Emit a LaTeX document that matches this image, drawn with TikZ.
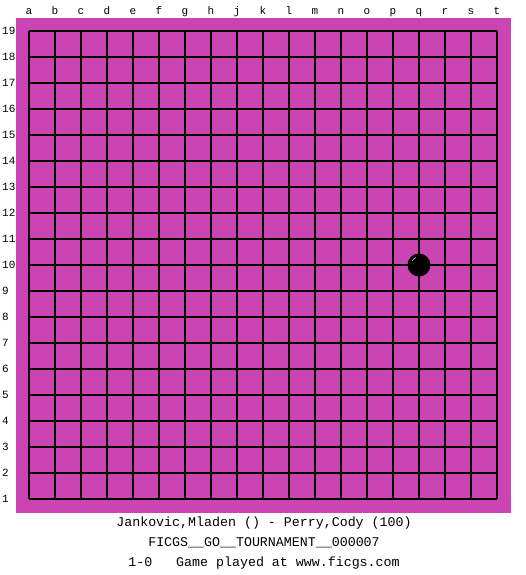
\documentclass[tikz,border=0pt]{standalone}
\usepackage{fontspec}
\setmonofont{Liberation Mono}
\usetikzlibrary{positioning}
\definecolor{boardmagenta}{RGB}{204,68,180}
\tikzset{
  gridline/.style={line width=1.1pt, black},
  collabel/.style={font=\ttfamily\fontsize{11}{11}\selectfont, inner sep=0pt, anchor=base},
  rowlabel/.style={font=\ttfamily\fontsize{11}{11}\selectfont, inner sep=0pt, anchor=west},
  infotext/.style={font=\ttfamily\fontsize{13.3}{14}\selectfont, inner sep=0pt}
}

\begin{document}
\begin{tikzpicture}[x=1pt,y=-1pt]
\fill[white] (0,0) rectangle (525,575);
\useasboundingbox (0,0) rectangle (525,575);
% board
\fill[boardmagenta] (16,18) rectangle (511,513);
\foreach \i in {0,...,18}{
  \draw[gridline] (29+26*\i,31) -- (29+26*\i,499);
  \draw[gridline] (29,31+26*\i) -- (497,31+26*\i);
}
% coordinates
\foreach \l [count=\i from 0] in {a,b,c,d,e,f,g,h,j,k,l,m,n,o,p,q,r,s,t}
  \node[collabel] (col\l) at (29+26*\i,15) {\l};
\foreach \r in {1,...,19}
  \node[rowlabel] (row\r) at (2,31+26*19-26*\r) {\r};
% stone at q10
\fill[black] (419,265) circle (11.5);
\draw[white!55!boardmagenta, line width=0.7pt] (419,265) ++(212:8) arc (212:248:8);
% game info
\node[infotext] (players) at (264,523) {Jankovic,Mladen () - Perry,Cody (100)};
\node[infotext] (event) at (264,543) {FICGS\_\_GO\_\_TOURNAMENT\_\_000007};
\node[infotext] (result) at (264,563) {1-0\ \ \ Game played at www.ficgs.com};
\end{tikzpicture}
\end{document}
